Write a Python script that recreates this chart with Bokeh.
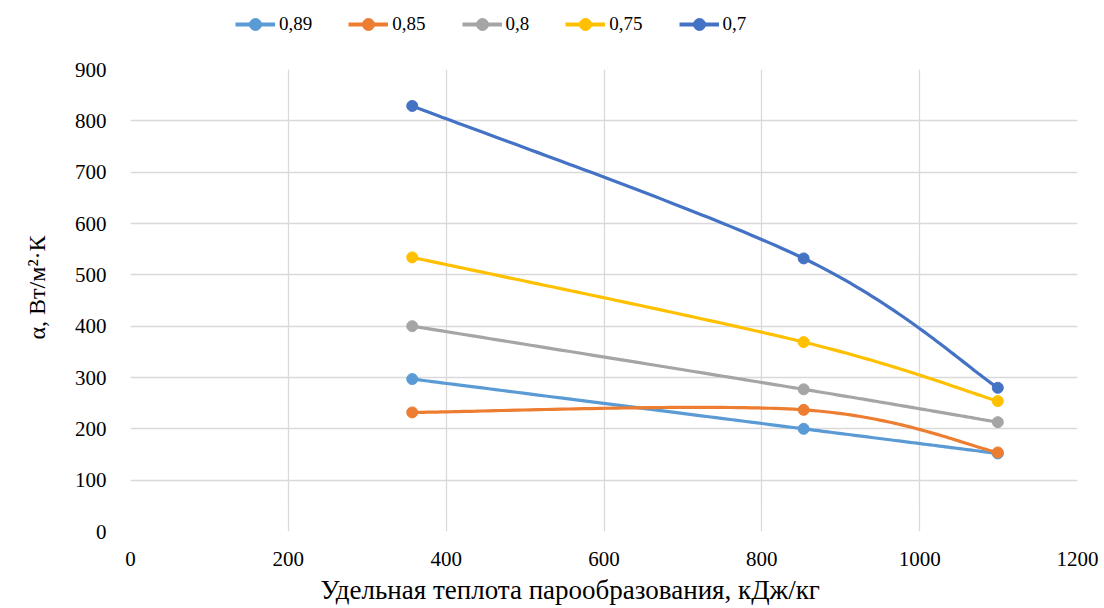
import numpy as np
from bokeh.plotting import figure
from bokeh.layouts import column
from bokeh.models import Legend, LegendItem, Range1d, FixedTicker, Title
from bokeh.embed import file_html
from bokeh.resources import INLINE

# ---- data ----
x_vals = [357, 853, 1099]
series_names = ["0,89", "0,85", "0,8", "0,75", "0,7"]
s_089 = [297, 200, 152]
s_085 = [232, 237, 154]
s_080 = [400, 277, 213]
s_075 = [534, 369, 254]
s_070 = [829, 532, 280]
series_values = [s_089, s_085, s_080, s_075, s_070]
colors = ["#5B9BD5", "#ED7D31", "#A5A5A5", "#FFC000", "#4472C4"]
x_ticks = [0, 200, 400, 600, 800, 1000, 1200]
y_ticks = [0, 100, 200, 300, 400, 500, 600, 700, 800, 900]
x_title = "Удельная теплота парообразования, кДж/кг"
y_title = "α, Вт/м²·К"

FONT = "Liberation Serif"
LINE_W = 3.2
MARK = 11


def smooth(xs, ys, n=60):
    pts = np.column_stack([xs, ys]).astype(float)
    P = np.vstack([pts[0], pts, pts[-1]])
    out = []
    t = np.linspace(0, 1, n)[:, None]
    for i in range(len(pts) - 1):
        p0, p1 = P[i + 1], P[i + 2]
        c1 = p0 + (P[i + 2] - P[i]) / 6.0
        c2 = p1 - (P[i + 3] - P[i + 1]) / 6.0
        b = (1 - t) ** 3 * p0 + 3 * (1 - t) ** 2 * t * c1 + 3 * (1 - t) * t ** 2 * c2 + t ** 3 * p1
        out.append(b if i == 0 else b[1:])
    b = np.vstack(out)
    return b[:, 0], b[:, 1]


# ---- legend strip (frame is aligned with the main chart's frame) ----
LEG_H = 57
lg = figure(width=1104, height=LEG_H, output_backend="svg", toolbar_location=None,
            x_range=Range1d(0, 1), y_range=Range1d(0, 1),
            x_axis_location=None, y_axis_location=None,
            min_border_left=130, min_border_right=27, min_border_top=0, min_border_bottom=0)
lg.outline_line_color = None
lg.xgrid.visible = False
lg.ygrid.visible = False
items = []
for name, col, vals in zip(series_names, colors, series_values):
    # series data drawn off-range (invisible here) so that the legend gets its glyphs
    lr = lg.line(x_vals, vals, line_color=col, line_width=4)
    cr = lg.scatter(x_vals, vals, size=MARK, fill_color=col, line_color=col)
    items.append(LegendItem(label=name, renderers=[lr, cr]))
legend = Legend(items=items, orientation="horizontal", location=(105, 18),
                glyph_width=40, glyph_height=30, label_standoff=4, spacing=36,
                padding=0, margin=0, border_line_color=None, background_fill_alpha=0,
                label_text_font=FONT, label_text_font_size="19px", label_text_color="#000000")
lg.add_layout(legend, "center")

# ---- main chart ----
p = figure(width=1104, height=608 - LEG_H, output_backend="svg", toolbar_location=None,
           x_range=Range1d(0, 1200), y_range=Range1d(0, 900),
           min_border_left=130, min_border_right=27, min_border_top=69 - LEG_H, min_border_bottom=77)
p.outline_line_color = None
p.background_fill_color = "white"
p.border_fill_color = "white"

for ax in (p.xaxis[0], p.yaxis[0]):
    ax.axis_line_color = None
    ax.major_tick_line_color = None
    ax.minor_tick_line_color = None
    ax.major_label_text_font = FONT
    ax.major_label_text_font_size = "21px"
    ax.major_label_text_color = "#000000"

p.xaxis[0].ticker = FixedTicker(ticks=x_ticks)
p.yaxis[0].ticker = FixedTicker(ticks=y_ticks)
p.xaxis[0].major_label_standoff = 14
p.yaxis[0].major_label_standoff = 18

p.add_layout(Title(text=x_title, align="left", offset=190, standoff=8,
                   text_font=FONT, text_font_size="27px", text_font_style="normal",
                   text_color="#000000"), "below")
p.add_layout(Title(text=y_title, align="left", offset=192, standoff=43,
                   text_font=FONT, text_font_size="24px", text_font_style="normal",
                   text_color="#000000"), "left")

p.xgrid.grid_line_color = "#D9D9D9"
p.ygrid.grid_line_color = "#D9D9D9"
p.xgrid.grid_line_width = 1.3
p.ygrid.grid_line_width = 1.3

for name, vals, col in zip(series_names, series_values, colors):
    sx, sy = smooth(x_vals, vals)
    p.line(sx, sy, line_color=col, line_width=LINE_W)
    p.scatter(x_vals, vals, size=MARK, fill_color=col, line_color=col)

layout = column(lg, p, spacing=0)
open("out.html", "w").write(file_html(layout, INLINE))
